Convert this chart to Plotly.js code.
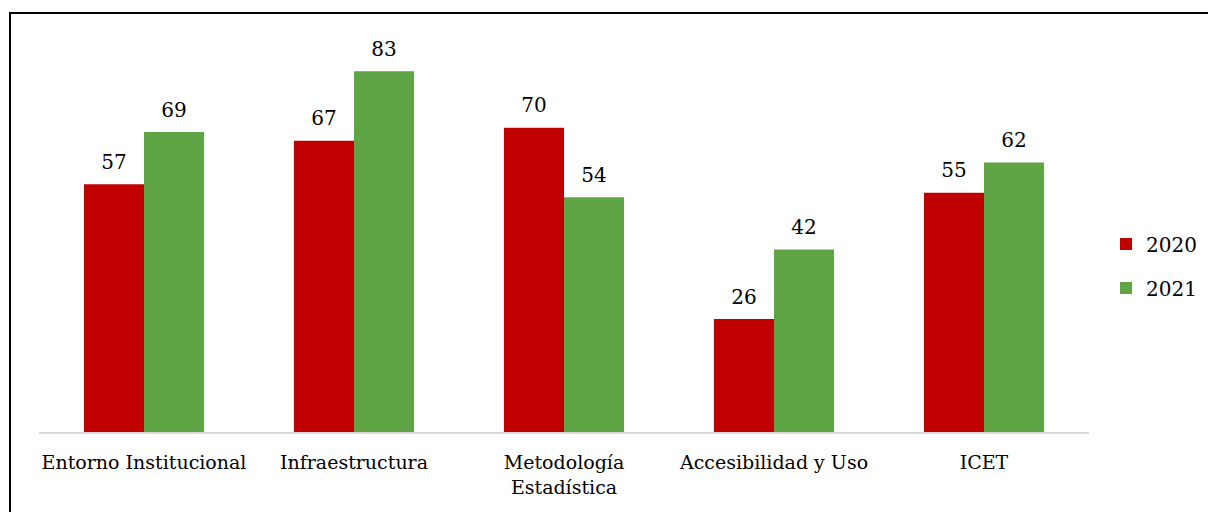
<!DOCTYPE html>
<html>
<head>
<meta charset="utf-8">
<script src="https://cdn.plot.ly/plotly-3.0.1.min.js"></script>
<style>html,body{margin:0;padding:0;background:#fff;}#chart{width:1208px;height:512px;}</style>
</head>
<body>
<div id="chart"></div>
<script>
const categories = ["Entorno Institucional", "Infraestructura", "Metodología<br>Estadística", "Accesibilidad y Uso", "ICET"];
const values2020 = [57, 67, 70, 26, 55];
const values2021 = [69, 83, 54, 42, 62];
const seriesNames = ["2020", "2021"];
const colors = ["#C00000", "#5FA545"];

const FONT = '"DejaVu Serif", "Liberation Serif", serif';
const FS = 20;
const TICK_FS = 19;

const traces = [
  {type: "bar", name: seriesNames[0], x: categories, y: values2020, marker: {color: colors[0]}, legendgroup: "a", hoverinfo: "none"},
  {type: "bar", name: seriesNames[1], x: categories, y: values2021, marker: {color: colors[1]}, legendgroup: "b", hoverinfo: "none"},
  {type: "scatter", mode: "markers+text", x: categories, y: values2020, text: values2020.map(String), textposition: "top center",
   marker: {size: 15, opacity: 0}, showlegend: false, hoverinfo: "none", textfont: {family: FONT, size: FS, color: "#000"}, cliponaxis: false},
  {type: "scatter", mode: "markers+text", x: categories, y: values2021, text: values2021.map(String), textposition: "top center",
   marker: {size: 15, opacity: 0}, showlegend: false, hoverinfo: "none", textfont: {family: FONT, size: FS, color: "#000"}, cliponaxis: false}
];

const L = 39, R = 119, T = 32, B = 80;
const W = 1208, H = 512;
const pw = W - L - R, ph = H - T - B;
const px = v => (v - L) / pw;
const py = v => (H - B - v) / ph;

const layout = {
  width: W, height: H,
  margin: {l: L, r: R, t: T, b: B, pad: 0, autoexpand: false},
  paper_bgcolor: "#fff", plot_bgcolor: "#fff",
  font: {family: FONT, size: FS, color: "#000"},
  barmode: "group", bargap: 0.428, bargroupgap: 0,
  scattermode: "group", scattergap: 0.428,
  showlegend: true,
  legend: {xref: "container", yref: "container", x: 1202 / W, xanchor: "right", y: 1 - 266 / H, yanchor: "middle",
           font: {family: FONT, size: FS, color: "#000"}, tracegroupgap: 15, bgcolor: "rgba(0,0,0,0)"},
  xaxis: {showline: true, linecolor: "#D9D9D9", linewidth: 1.5, ticks: "", showgrid: false, zeroline: false,
          tickfont: {family: FONT, size: TICK_FS, color: "#000"}, ticklabelstandoff: 13, fixedrange: true},
  yaxis: {range: [0, 92], visible: false, showgrid: false, zeroline: false, fixedrange: true},
  shapes: [{type: "rect", xref: "paper", yref: "paper", x0: px(10), x1: px(W + 20), y0: py(H + 20), y1: py(13),
            line: {color: "#000", width: 2}, fillcolor: "rgba(0,0,0,0)", layer: "above"}]
};

Plotly.newPlot("chart", traces, layout, {displayModeBar: false, staticPlot: true});
</script>
</body>
</html>
